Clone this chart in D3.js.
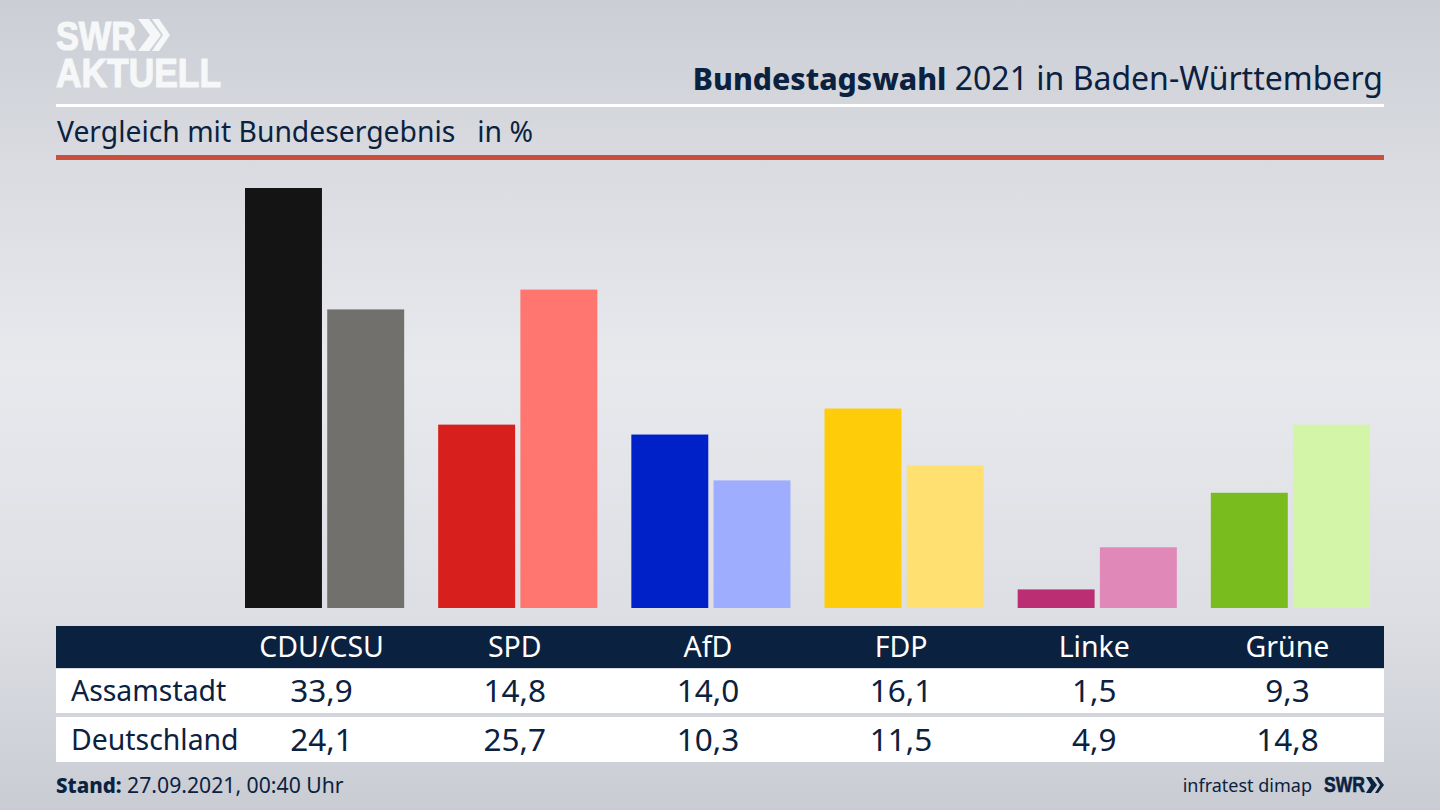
<!DOCTYPE html>
<html lang="de">
<head>
<meta charset="UTF-8">
<title>Bundestagswahl 2021 in Baden-Württemberg</title>
<script src="https://d3js.org/d3.v7.min.js"></script>
<style>
  html, body { margin: 0; padding: 0; background: #d5d7dd; }
  svg { display: block; font-family: "Noto Sans", sans-serif; }
  .dark { fill: #0b2140; }
  .logo { font-family: "Liberation Sans", sans-serif; font-weight: 700; }
</style>
</head>
<body>
<svg id="chart" width="1440" height="810"></svg>
<script>
// Data
const parties = ["CDU/CSU", "SPD", "AfD", "FDP", "Linke", "Grüne"];
const regions = ["Assamstadt", "Deutschland"];
const assamstadt = [33.9, 14.8, 14.0, 16.1, 1.5, 9.3];
const deutschland = [24.1, 25.7, 10.3, 11.5, 4.9, 14.8];
const darkColors = ["#141414", "#d71f1d", "#0021c8", "#ffcc0a", "#bc2e74", "#78bc1e"];
const lightColors = ["#71706d", "#ff7570", "#9fadff", "#ffe070", "#e088b8", "#d2f5a8"];

const navy = "#0b2140";
const fmt = v => v.toFixed(1).replace(".", ",");

const svg = d3.select("#chart");

// Background
const defs = svg.append("defs");
const bg = defs.append("linearGradient").attr("id", "bg")
    .attr("x1", 0).attr("y1", 0).attr("x2", 0).attr("y2", 1);
[[0, "#cbced5"], [0.2, "#d9dbe0"], [0.45, "#e8e9ed"], [0.75, "#dddfe4"], [1, "#c9ccd3"]].forEach(s => {
    bg.append("stop").attr("offset", s[0]).attr("stop-color", s[1]);
});
svg.append("rect").attr("width", 1440).attr("height", 810).attr("fill", "url(#bg)");

// Scales
const x0 = d3.scaleBand().domain(parties).range([245, 1370]).paddingInner(0.176);
const x1 = d3.scaleBand().domain(regions).range([0, x0.bandwidth()]).paddingInner(0.064);
const y = d3.scaleLinear().domain([0, 33.9]).range([608, 188]);

// Bars
const groups = svg.selectAll("g.party")
    .data(parties)
    .enter().append("g")
    .attr("class", "party")
    .attr("transform", d => `translate(${x0(d)},0)`);

groups.append("rect")
    .attr("x", x1(regions[0]))
    .attr("y", (d, i) => y(assamstadt[i]))
    .attr("width", x1.bandwidth())
    .attr("height", (d, i) => y(0) - y(assamstadt[i]))
    .attr("fill", (d, i) => darkColors[i]);

groups.append("rect")
    .attr("x", x1(regions[1]))
    .attr("y", (d, i) => y(deutschland[i]))
    .attr("width", x1.bandwidth())
    .attr("height", (d, i) => y(0) - y(deutschland[i]))
    .attr("fill", (d, i) => lightColors[i]);

// Logo
svg.append("text").attr("class", "logo").attr("x", 56).attr("y", 50)
    .attr("font-size", 40).attr("fill", "#f6f7f8").attr("stroke", "#f6f7f8").attr("stroke-width", 1.2)
    .attr("textLength", 80).attr("lengthAdjust", "spacingAndGlyphs").text("SWR");
svg.append("text").attr("class", "logo").attr("x", 56).attr("y", 87)
    .attr("font-size", 40).attr("fill", "#f6f7f8").attr("stroke", "#f6f7f8").attr("stroke-width", 1.2)
    .attr("textLength", 165).attr("lengthAdjust", "spacingAndGlyphs").text("AKTUELL");
svg.append("path").attr("fill", "#f6f7f8")
    .attr("d", "M138,19 L149,19 L161,35 L149,51 L138,51 L150,35Z M152,19 L159,19 L170,35 L159,51 L152,51 L163,35Z");

// Title
const title = svg.append("text").attr("x", 1383).attr("y", 90)
    .attr("text-anchor", "end").attr("class", "dark");
title.append("tspan").attr("font-size", 30.2).attr("font-weight", 800).text("Bundestagswahl");
title.append("tspan").attr("font-size", 32).text(" 2021 in Baden-Württemberg");

svg.append("rect").attr("x", 56).attr("y", 104).attr("width", 1328).attr("height", 3).attr("fill", "#fff");

svg.append("text").attr("x", 57).attr("y", 142).attr("font-size", 28.3).attr("class", "dark")
    .attr("xml:space", "preserve").text("Vergleich mit Bundesergebnis   in %");

svg.append("rect").attr("x", 56).attr("y", 155).attr("width", 1328).attr("height", 5).attr("fill", "#c8503c");

// Table
svg.append("rect").attr("x", 56).attr("y", 626).attr("width", 1328).attr("height", 42).attr("fill", navy);
svg.append("rect").attr("x", 56).attr("y", 669).attr("width", 1328).attr("height", 44).attr("fill", "#fff");
svg.append("rect").attr("x", 56).attr("y", 717).attr("width", 1328).attr("height", 45).attr("fill", "#fff");

const cx = d => x0(d) + x0.bandwidth() / 2 - 3;

svg.selectAll("text.head").data(parties).enter().append("text")
    .attr("class", "head")
    .attr("x", cx).attr("y", 657)
    .attr("text-anchor", "middle").attr("font-size", 28.5).attr("fill", "#fff")
    .text(d => d);

[assamstadt, deutschland].forEach((values, r) => {
    const rowY = [702, 751][r];
    svg.append("text").attr("x", 71).attr("y", rowY - 1)
        .attr("font-size", 28.4).attr("class", "dark").text(regions[r]);
    svg.selectAll(`text.val${r}`).data(parties).enter().append("text")
        .attr("class", `val${r} dark`)
        .attr("x", cx).attr("y", rowY)
        .attr("text-anchor", "middle").attr("font-size", 31.5)
        .text((d, i) => fmt(values[i]));
});

// Footer
const stand = svg.append("text").attr("x", 56).attr("y", 793).attr("class", "dark");
stand.append("tspan").attr("font-size", 20.5).attr("font-weight", 800).text("Stand:");
stand.append("tspan").attr("font-size", 21.2).text(" 27.09.2021, 00:40 Uhr");

svg.append("text").attr("x", 1312).attr("y", 792).attr("text-anchor", "end")
    .attr("font-size", 18).attr("class", "dark").text("infratest dimap");
svg.append("text").attr("class", "logo dark").attr("x", 1324).attr("y", 792)
    .attr("font-size", 22).attr("stroke", navy).attr("stroke-width", 0.6)
    .attr("textLength", 41).attr("lengthAdjust", "spacingAndGlyphs").text("SWR");
svg.append("path").attr("fill", navy)
    .attr("d", "M1366,777 h5 l6,8 l-6,8 h-5 l5,-8z M1375,777 h3 l6,8 l-6,8 h-3 l5,-8z");
</script>
</body>
</html>
